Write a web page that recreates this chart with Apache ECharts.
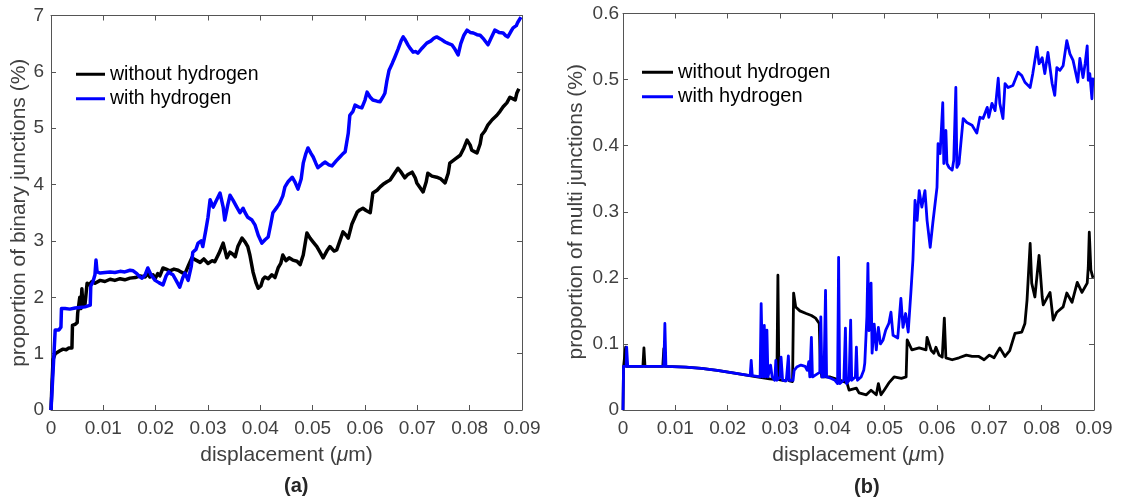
<!DOCTYPE html>
<html>
<head>
<meta charset="utf-8">
<script src="https://cdn.jsdelivr.net/npm/echarts@6/dist/echarts.min.js"></script>
<style>
  html, body { margin: 0; padding: 0; background: #fff; }
  #chart { width: 1123px; height: 503px; }
</style>
</head>
<body>
<div id="chart"></div>
<script>
// ---- panel (a): proportion of binary junctions (%) vs displacement (um) ----
const binaryNoH_x = [0,0.0002,0.0004,0.0008,0.0011,0.0017,0.0023,0.0029,0.0034,0.0040,0.0041,0.0046,0.0050,0.0051,0.0054,0.0055,0.0057,0.0059,0.0061,0.0065,0.0069,0.0073,0.0078,0.0084,0.0094,0.0103,0.0113,0.0122,0.0132,0.0141,0.0151,0.0161,0.0170,0.0180,0.0185,0.0189,0.0195,0.0199,0.0204,0.0208,0.0214,0.0220,0.0227,0.0235,0.0243,0.0250,0.0256,0.0262,0.0269,0.0277,0.0285,0.0292,0.0300,0.0308,0.0313,0.0321,0.0329,0.0332,0.0336,0.0342,0.0348,0.0352,0.0357,0.0365,0.0371,0.0376,0.0380,0.0386,0.0392,0.0396,0.0401,0.0405,0.0409,0.0415,0.0422,0.0428,0.0434,0.0439,0.0443,0.0449,0.0455,0.0462,0.0470,0.0476,0.0482,0.0489,0.0495,0.0501,0.0508,0.0514,0.0520,0.0527,0.0533,0.0541,0.0546,0.0552,0.0558,0.0564,0.0568,0.0575,0.0585,0.0590,0.0596,0.0602,0.0610,0.0615,0.0623,0.0629,0.0634,0.0642,0.0648,0.0655,0.0663,0.0669,0.0676,0.0682,0.0690,0.0696,0.0699,0.0705,0.0711,0.0717,0.0720,0.0728,0.0737,0.0745,0.0753,0.0759,0.0762,0.0772,0.0782,0.0789,0.0795,0.0801,0.0804,0.0810,0.0814,0.0820,0.0823,0.0829,0.0835,0.0843,0.0852,0.0858,0.0864,0.0871,0.0877,0.0883,0.0887,0.0890,0.0894];
const binaryNoH_y = [0,0.5,0.9,1.0,1.02,1.05,1.08,1.07,1.1,1.1,1.5,1.52,1.55,1.72,1.7,2.0,1.8,2.15,1.85,1.88,2.25,2.22,2.28,2.25,2.3,2.28,2.32,2.3,2.33,2.31,2.34,2.35,2.38,2.36,2.42,2.36,2.4,2.33,2.42,2.38,2.52,2.5,2.47,2.5,2.48,2.44,2.42,2.55,2.7,2.66,2.62,2.68,2.6,2.65,2.63,2.78,2.96,2.85,2.7,2.8,2.76,2.72,2.9,3.05,2.98,2.9,2.75,2.45,2.25,2.16,2.2,2.32,2.36,2.33,2.4,2.35,2.52,2.6,2.75,2.65,2.7,2.66,2.64,2.58,2.75,3.14,3.05,2.98,2.9,2.8,2.7,2.82,2.9,2.82,2.84,3.0,3.16,3.1,3.05,3.3,3.51,3.55,3.58,3.54,3.5,3.85,3.9,3.96,4.0,4.05,4.08,4.18,4.29,4.22,4.12,4.18,4.22,4.12,4.03,3.95,3.87,4.05,4.2,4.15,4.13,4.1,4.03,4.2,4.38,4.45,4.52,4.65,4.79,4.7,4.61,4.58,4.56,4.72,4.88,4.95,5.06,5.15,5.23,5.3,5.38,5.45,5.55,5.52,5.5,5.62,5.7];

const binaryH_x = [0,0.0004,0.0008,0.0011,0.0015,0.0019,0.0020,0.0027,0.0036,0.0046,0.0055,0.0065,0.0075,0.0076,0.0080,0.0084,0.0086,0.0088,0.0094,0.0103,0.0113,0.0122,0.0132,0.0141,0.0151,0.0157,0.0164,0.0170,0.0174,0.0180,0.0185,0.0191,0.0199,0.0206,0.0214,0.0220,0.0225,0.0229,0.0233,0.0239,0.0246,0.0252,0.0256,0.0262,0.0268,0.0271,0.0277,0.0281,0.0287,0.0290,0.0296,0.0300,0.0304,0.0310,0.0315,0.0323,0.0329,0.0332,0.0338,0.0342,0.0348,0.0355,0.0361,0.0367,0.0371,0.0376,0.0384,0.0390,0.0396,0.0403,0.0409,0.0415,0.0420,0.0424,0.0432,0.0437,0.0443,0.0447,0.0453,0.0461,0.0466,0.0472,0.0478,0.0482,0.0487,0.0491,0.0497,0.0501,0.0506,0.0510,0.0518,0.0524,0.0531,0.0537,0.0545,0.0552,0.0558,0.0562,0.0568,0.0571,0.0577,0.0581,0.0587,0.0594,0.0600,0.0604,0.0610,0.0615,0.0623,0.0629,0.0634,0.0638,0.0642,0.0646,0.0652,0.0657,0.0663,0.0669,0.0673,0.0676,0.0682,0.0686,0.0692,0.0697,0.0701,0.0709,0.0718,0.0726,0.0732,0.0737,0.0745,0.0753,0.0760,0.0766,0.0772,0.0778,0.0783,0.0789,0.0795,0.0801,0.0807,0.0814,0.0820,0.0827,0.0835,0.0841,0.0848,0.0856,0.0864,0.0869,0.0873,0.0879,0.0883,0.0889,0.0892,0.0898];
const binaryH_y = [0,0.7,1.42,1.45,1.42,1.47,1.8,1.8,1.79,1.81,1.82,1.83,1.86,2.2,2.27,2.4,2.66,2.45,2.43,2.44,2.45,2.44,2.46,2.45,2.48,2.47,2.42,2.36,2.34,2.4,2.52,2.4,2.3,2.26,2.22,2.38,2.45,2.42,2.4,2.3,2.18,2.35,2.43,2.3,2.55,2.8,2.85,2.96,3.0,2.9,3.2,3.42,3.73,3.6,3.7,3.85,3.6,3.37,3.65,3.81,3.72,3.6,3.5,3.58,3.5,3.42,3.37,3.28,3.1,2.96,3.02,3.07,3.3,3.5,3.6,3.67,3.8,3.96,4.05,4.13,4.05,3.92,4.1,4.38,4.55,4.65,4.55,4.49,4.38,4.3,4.36,4.4,4.35,4.33,4.42,4.49,4.55,4.58,4.91,5.23,5.3,5.41,5.38,5.36,5.5,5.64,5.55,5.5,5.48,5.47,5.55,5.62,5.85,6.03,6.15,6.26,6.4,6.55,6.62,6.58,6.48,6.42,6.35,6.36,6.33,6.42,6.51,6.55,6.6,6.62,6.58,6.53,6.5,6.48,6.4,6.3,6.5,6.65,6.74,6.7,6.69,6.66,6.65,6.58,6.48,6.6,6.74,6.7,6.69,6.64,6.62,6.72,6.78,6.82,6.88,6.97];

// ---- panel (b): proportion of multi junctions (%) vs displacement (um) ----
const multiNoH_x = [0,0.0001,0.0004,0.0005,0.0007,0.0038,0.0040,0.0042,0.0076,0.0078,0.0080,0.0120,0.0150,0.0180,0.0210,0.0250,0.0280,0.0294,0.0296,0.0298,0.0310,0.0315,0.0318,0.0324,0.0326,0.0330,0.0338,0.0350,0.0360,0.0368,0.0375,0.0377,0.0380,0.0396,0.0415,0.0428,0.0432,0.0446,0.0451,0.0465,0.0474,0.0484,0.0488,0.0493,0.0499,0.0508,0.0518,0.0532,0.0541,0.0543,0.0552,0.0566,0.0579,0.0581,0.0589,0.0594,0.0598,0.0604,0.0610,0.0614,0.0617,0.0629,0.0642,0.0656,0.0667,0.0680,0.0690,0.0700,0.0709,0.0720,0.0730,0.0739,0.0749,0.0762,0.0768,0.0772,0.0778,0.0781,0.0787,0.0795,0.0801,0.0803,0.0816,0.0822,0.0829,0.0841,0.0848,0.0858,0.0868,0.0877,0.0887,0.0889,0.0891,0.0894,0.0898];
const multiNoH_y = [0,0.065,0.066,0.095,0.066,0.066,0.094,0.066,0.066,0.093,0.066,0.065,0.063,0.060,0.056,0.051,0.047,0.046,0.204,0.046,0.044,0.050,0.044,0.043,0.177,0.156,0.150,0.146,0.143,0.139,0.131,0.065,0.050,0.050,0.045,0.041,0.030,0.033,0.026,0.023,0.030,0.023,0.040,0.023,0.030,0.041,0.050,0.048,0.050,0.106,0.091,0.094,0.091,0.110,0.090,0.086,0.095,0.083,0.080,0.139,0.079,0.076,0.079,0.083,0.081,0.081,0.076,0.083,0.079,0.094,0.081,0.090,0.116,0.118,0.131,0.166,0.252,0.192,0.171,0.234,0.171,0.159,0.178,0.136,0.148,0.156,0.177,0.163,0.193,0.178,0.192,0.215,0.269,0.212,0.200];

const multiH_x = [0,0.0001,0.0006,0.0007,0.0009,0.0078,0.0080,0.0082,0.0120,0.0150,0.0180,0.0210,0.0243,0.0245,0.0247,0.0262,0.0264,0.0267,0.0270,0.0272,0.0275,0.0277,0.0282,0.0285,0.0290,0.0292,0.0294,0.0300,0.0302,0.0305,0.0312,0.0316,0.0318,0.0325,0.0327,0.0332,0.0340,0.0348,0.0352,0.0355,0.0357,0.0360,0.0362,0.0372,0.0376,0.0378,0.0380,0.0384,0.0387,0.0389,0.0397,0.0405,0.0410,0.0412,0.0414,0.0422,0.0425,0.0427,0.0432,0.0435,0.0437,0.0444,0.0446,0.0448,0.0455,0.0460,0.0462,0.0466,0.0468,0.0470,0.0474,0.0476,0.0480,0.0484,0.0488,0.0492,0.0497,0.0502,0.0508,0.0512,0.0516,0.0525,0.0531,0.0535,0.0540,0.0545,0.0550,0.0554,0.0558,0.0562,0.0566,0.0571,0.0577,0.0581,0.0587,0.0592,0.0600,0.0602,0.0606,0.0611,0.0613,0.0617,0.0619,0.0623,0.0629,0.0632,0.0636,0.0638,0.0642,0.0650,0.0652,0.0657,0.0667,0.0676,0.0682,0.0688,0.0696,0.0699,0.0705,0.0711,0.0717,0.0720,0.0726,0.0730,0.0736,0.0745,0.0755,0.0762,0.0768,0.0778,0.0783,0.0791,0.0795,0.0801,0.0806,0.0812,0.0820,0.0825,0.0829,0.0835,0.0841,0.0848,0.0854,0.0860,0.0869,0.0873,0.0879,0.0883,0.0887,0.0889,0.0892,0.0896,0.0898,0.0900];
const multiH_y = [0,0.066,0.066,0.095,0.066,0.066,0.131,0.066,0.065,0.063,0.060,0.056,0.052,0.075,0.052,0.050,0.161,0.050,0.128,0.050,0.121,0.050,0.068,0.050,0.045,0.075,0.045,0.050,0.080,0.045,0.044,0.082,0.045,0.045,0.060,0.065,0.068,0.066,0.060,0.073,0.050,0.110,0.050,0.055,0.057,0.141,0.050,0.050,0.181,0.050,0.048,0.045,0.040,0.231,0.040,0.045,0.124,0.040,0.045,0.136,0.045,0.050,0.095,0.045,0.050,0.060,0.071,0.141,0.222,0.120,0.192,0.086,0.130,0.091,0.125,0.100,0.106,0.121,0.131,0.148,0.113,0.109,0.169,0.125,0.146,0.118,0.177,0.227,0.317,0.287,0.332,0.307,0.332,0.287,0.246,0.283,0.337,0.403,0.388,0.465,0.373,0.423,0.373,0.367,0.363,0.378,0.488,0.367,0.373,0.441,0.438,0.435,0.431,0.419,0.443,0.441,0.458,0.443,0.464,0.453,0.502,0.464,0.441,0.494,0.488,0.491,0.511,0.506,0.496,0.488,0.509,0.549,0.524,0.533,0.509,0.541,0.494,0.476,0.518,0.514,0.521,0.559,0.539,0.529,0.496,0.532,0.503,0.524,0.551,0.499,0.509,0.471,0.503];

// tick labels
const xTickLabels = ['0','0.01','0.02','0.03','0.04','0.05','0.06','0.07','0.08','0.09'];
const yTickLabelsA = ['0','1','2','3','4','5','6','7'];
const yTickLabelsB = ['0','0.1','0.2','0.3','0.4','0.5','0.6'];

const seriesNames = ['without hydrogen', 'with hydrogen'];
const lineColors = ['#000000', '#0000ff'];

const FONT = '"Liberation Sans", Arial, Helvetica, sans-serif';
const AXIS_COLOR = '#555555';
const TEXT_COLOR = '#404040';

function pairs(xs, ys) { return xs.map((x, i) => [x, ys[i]]); }

function xAxisDef(gridIndex, bottom) {
  return {
    type: 'value', gridIndex, position: bottom ? 'bottom' : 'top',
    min: 0, max: 0.09, interval: 0.01,
    axisLine: { show: true, onZero: false, lineStyle: { color: AXIS_COLOR, width: 1 } },
    axisTick: { show: true, inside: true, length: 5, lineStyle: { color: AXIS_COLOR } },
    axisLabel: {
      show: bottom, margin: 9, color: TEXT_COLOR, fontSize: 19, fontFamily: FONT,
      formatter: v => xTickLabels[Math.round(v / 0.01)]
    },
    splitLine: { show: false },
    name: bottom ? 'displacement ({i|μ}m)' : '',
    nameLocation: 'middle', nameGap: 35,
    nameTextStyle: {
      color: TEXT_COLOR, fontSize: 21, fontFamily: FONT,
      rich: { i: { fontStyle: 'italic', fontSize: 21, fontFamily: FONT, color: TEXT_COLOR } }
    }
  };
}

function yAxisDef(gridIndex, left, max, interval, labels, name, nameGap, labelMargin) {
  return {
    type: 'value', gridIndex, position: left ? 'left' : 'right',
    min: 0, max, interval,
    axisLine: { show: true, onZero: false, lineStyle: { color: AXIS_COLOR, width: 1 } },
    axisTick: { show: true, inside: true, length: 5, lineStyle: { color: AXIS_COLOR } },
    axisLabel: {
      show: left, margin: labelMargin, color: TEXT_COLOR, fontSize: 19, fontFamily: FONT,
      formatter: v => labels[Math.round(v / interval)]
    },
    splitLine: { show: false },
    name: left ? name : '',
    nameLocation: 'middle', nameGap,
    nameTextStyle: { color: TEXT_COLOR, fontSize: 21, fontFamily: FONT }
  };
}

function lineSeries(name, color, xIdx, yIdx, data, width) {
  return {
    name, type: 'line', xAxisIndex: xIdx, yAxisIndex: yIdx,
    data, showSymbol: false, symbol: 'none',
    lineStyle: { color, width, join: 'round' }, itemStyle: { color },
    z: name === seriesNames[1] ? 3 : 2
  };
}

function legendDef(left, top, width, fontSize) {
  return {
    data: seriesNames, orient: 'vertical', left, top, padding: 0,
    itemWidth: width, itemHeight: 3, itemGap: 0,
    icon: 'rect',
    textStyle: { color: '#000', fontSize, fontFamily: FONT, lineHeight: 24.5 },
    selectedMode: false
  };
}

const chart = echarts.init(document.getElementById('chart'), null, { renderer: 'canvas' });

chart.setOption({
  animation: false,
  backgroundColor: '#ffffff',
  grid: [
    { left: 51, top: 15.5, width: 471, height: 394.5 },
    { left: 623, top: 13.5, width: 471, height: 396.5 }
  ],
  xAxis: [xAxisDef(0, true), xAxisDef(0, false), xAxisDef(1, true), xAxisDef(1, false)],
  yAxis: [
    yAxisDef(0, true, 7, 1, yTickLabelsA, 'proportion of binary junctions (%)', 16, 7),
    yAxisDef(0, false, 7, 1, yTickLabelsA, '', 0, 7),
    yAxisDef(1, true, 0.6, 0.1, yTickLabelsB, 'proportion of multi junctions (%)', 36, 4),
    yAxisDef(1, false, 0.6, 0.1, yTickLabelsB, '', 0, 4)
  ],
  legend: [legendDef(76, 62, 29, 19.5), legendDef(642, 60, 31, 20)],
  series: [
    lineSeries(seriesNames[0], lineColors[0], 0, 0, pairs(binaryNoH_x, binaryNoH_y), 3.5),
    lineSeries(seriesNames[1], lineColors[1], 0, 0, pairs(binaryH_x, binaryH_y), 3.5),
    lineSeries(seriesNames[0], lineColors[0], 2, 2, pairs(multiNoH_x, multiNoH_y), 2.8),
    lineSeries(seriesNames[1], lineColors[1], 2, 2, pairs(multiH_x, multiH_y), 2.8)
  ],
  graphic: [
    { type: 'text', left: 284, top: 476, style: { text: '(a)', font: 'bold 20px ' + FONT, fill: '#262626' } },
    { type: 'text', left: 854, top: 477, style: { text: '(b)', font: 'bold 20px ' + FONT, fill: '#262626' } }
  ]
});
</script>
</body>
</html>
